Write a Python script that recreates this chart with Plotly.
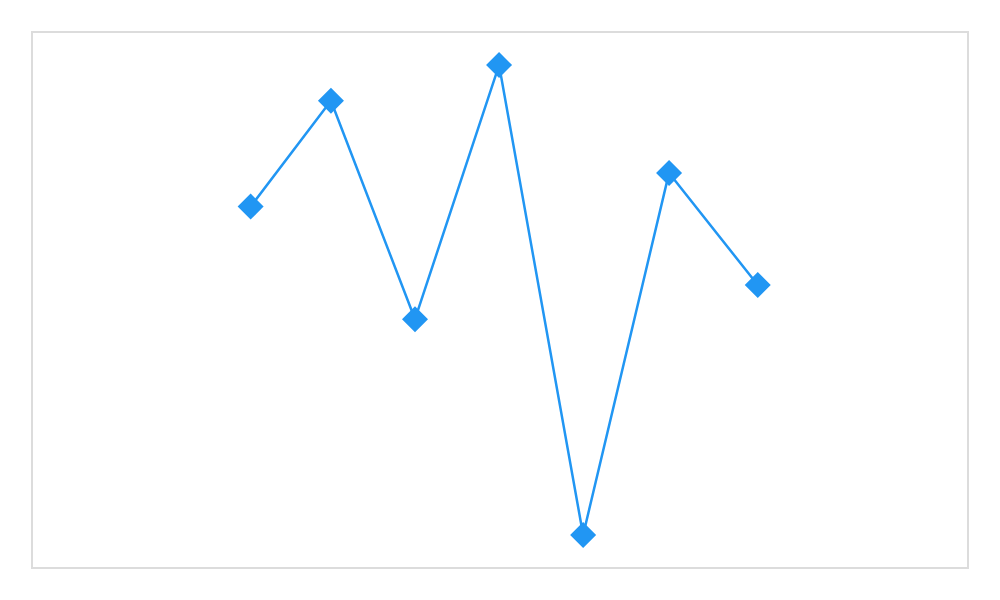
import plotly.graph_objects as go

# Series data
x_values = [23.3, 31.9, 40.9, 49.9, 58.9, 68.1, 77.6]
y_values = [67.5, 87.3, 46.4, 94.0, 6.0, 73.8, 52.8]

line_color = "#2196F3"

fig = go.Figure(go.Scatter(x=x_values,
                           y=y_values,
                           mode="lines+markers",
                           line=dict(color=line_color, width=2.5),
                           marker=dict(symbol="diamond", size=20, color=line_color),
                           hoverinfo="x+y"))

axis_style = dict(showgrid=False,
                  zeroline=False,
                  showticklabels=False,
                  ticks="",
                  showline=True,
                  mirror=True,
                  linecolor="#dcdcdc",
                  linewidth=1.5)

# page body has an 8px margin, so size the figure to sit inside the window
fig.update_layout(width=984,
                  height=584,
                  margin=dict(l=25, r=25, t=25, b=25),
                  paper_bgcolor="white",
                  plot_bgcolor="white",
                  showlegend=False,
                  xaxis=dict(range=[0, 100], **axis_style),
                  yaxis=dict(range=[0, 100], **axis_style))

fig.write_html("out.html")
